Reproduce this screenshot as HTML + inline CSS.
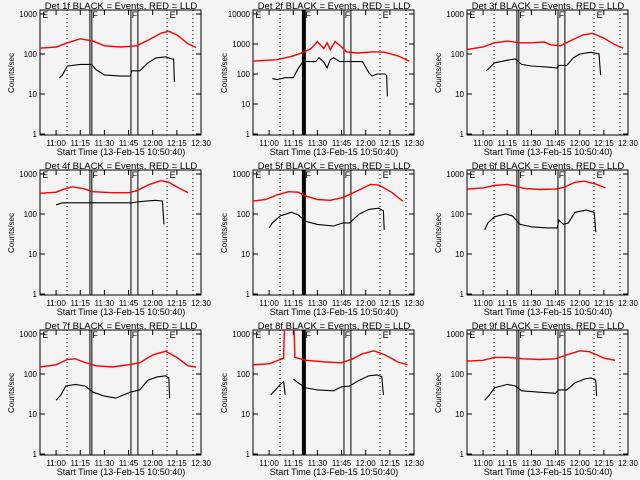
<!DOCTYPE html>
<html><head><meta charset="utf-8">
<style>
html,body{margin:0;padding:0;background:#f4f4f4;}
svg{display:block;}
text{font-family:"Liberation Sans",sans-serif;fill:#000;}
</style></head>
<body>
<svg id="chart" width="640" height="480" viewBox="0 0 640 480"></svg>
<script>
// ---- data (minutes since 10:50, counts/sec) ----
const p1RedT=[0,10,17,25,33,40,50,60,68,75,80,85,92,97];
const p1RedV=[140,150,190,240,210,160,150,160,230,330,370,300,180,145];
const p1BlkT=[12,14,17,25,32,35,40,50,56,57,62,67,72,78,82,83,83.5];
const p1BlkV=[25,30,50,55,55,40,30,28,28,38,38,60,80,85,75,75,20];
const p2RedT=[0,15,25,32,36,40,44,46,48,51,55,58,65,75,82,90,97];
const p2RedV=[270,300,400,550,700,1200,700,1100,650,1200,800,550,500,550,530,400,270];
const p2BlkT=[12,15,20,25,28,31,39,41,44,46,48,50,52,54,68,72,74,77,82,83,83.5];
const p2BlkV=[70,65,75,75,150,260,260,350,250,160,300,350,300,260,260,110,85,100,100,90,18];
const p3RedT=[0,10,17,25,33,40,48,52,58,65,72,78,85,92,97];
const p3RedV=[130,150,190,210,190,190,200,170,160,220,300,330,250,170,140];
const p3BlkT=[12,14,17,25,30,34,40,50,56,57,62,66,70,77,82,83];
const p3BlkV=[38,45,60,70,75,55,50,47,45,52,52,80,100,110,100,30];
const p4RedT=[0,10,15,20,27,33,45,55,60,68,75,80,86,92];
const p4RedV=[330,350,420,480,430,360,340,340,380,550,680,620,450,340];
const p4BlkT=[10,14,57,60,66,72,76,77];
const p4BlkV=[170,190,190,200,210,220,210,55];
const p5RedT=[0,8,15,22,28,33,40,48,56,66,73,78,86,93];
const p5RedV=[210,230,300,360,350,280,230,220,260,400,550,530,350,210];
const p5BlkT=[10,12,17,24,28,33,40,50,56,60,66,72,78,81,81.5];
const p5BlkV=[45,60,90,110,95,65,55,50,60,60,100,130,140,120,40];
const p6RedT=[0,10,17,25,30,35,45,55,60,67,73,80,86];
const p6RedV=[420,450,520,550,500,440,410,420,460,620,660,560,450];
const p6BlkT=[11,13,17,24,28,33,40,50,56,57,60,63,67,74,79,80];
const p6BlkV=[40,60,85,100,90,55,48,45,45,70,55,60,110,125,110,35];
const p7RedT=[0,10,17,22,27,35,45,55,62,70,78,85,92,97];
const p7RedV=[150,170,230,240,200,160,150,170,190,300,370,260,160,150];
const p7BlkT=[10,13,16,22,28,33,40,47,52,56,62,67,73,78,80,80.5];
const p7BlkV=[22,30,50,55,50,35,28,25,30,35,40,70,85,90,80,25];
const p8RedT=[0,10,17,19,19.5,null,25.5,26,33,45,55,62,68,75,82,90,96];
const p8RedV=[170,180,230,250,1300,null,1300,260,220,200,190,240,320,380,300,200,170];
const p8BlkT=[11,14,17,19,20,null,25,28,33,40,50,55,60,66,72,77,80,81];
const p8BlkV=[30,40,55,65,30,null,75,60,45,40,38,48,50,70,90,95,85,30];
const p9RedT=[0,10,17,25,35,45,55,62,70,76,85,92];
const p9RedV=[210,220,260,260,240,230,240,300,380,360,250,220];
const p9BlkT=[11,14,17,25,30,34,45,55,57,62,67,73,77,80,80.5];
const p9BlkV=[22,30,45,55,50,38,35,33,40,40,60,75,80,70,28];
const xTickLabels=["11:00","11:15","11:30","11:45","12:00","12:15","12:30"];
const xTickTimes=[10,25,40,55,70,85,100];

const panels=[
 [p1RedT,p1RedV,p1BlkT,p1BlkV,3],[p2RedT,p2RedV,p2BlkT,p2BlkV,4],[p3RedT,p3RedV,p3BlkT,p3BlkV,3],
 [p4RedT,p4RedV,p4BlkT,p4BlkV,3],[p5RedT,p5RedV,p5BlkT,p5BlkV,3],[p6RedT,p6RedV,p6BlkT,p6BlkV,3],
 [p7RedT,p7RedV,p7BlkT,p7BlkV,3],[p8RedT,p8RedV,p8BlkT,p8BlkV,3],[p9RedT,p9RedV,p9BlkT,p9BlkV,3]];
const svg=document.getElementById('chart');
const NS='http://www.w3.org/2000/svg';
function mk(tag,attrs,parent){const e=document.createElementNS(NS,tag);for(const k in attrs)e.setAttribute(k,attrs[k]);parent.appendChild(e);return e;}
function line(p,x1,y1,x2,y2,extra){const l=mk('line',Object.assign({x1:x1,y1:y1,x2:x2,y2:y2,stroke:'#000','stroke-width':1},extra||{}),p);return l;}

panels.forEach((pd,i)=>{
  const col=i%3,row=Math.floor(i/3);
  const ox=col*213+(col==2?1:0),oy=row*160;
  const bx0=ox+40,bx1=ox+201,by0=oy+10,by1=oy+135;
  const dec=pd[4],pxd=120/dec;
  const xs=t=>bx0+t*1.61;
  const ys=v=>oy+134-Math.log10(v)*pxd;
  const g=mk('g',{},svg);
  
  
  const title=mk('text',{x:ox+121,y:oy+9,'font-size':'9.5','text-anchor':'middle'},g);
  title.textContent='Det '+(i+1)+'f BLACK = Events, RED = LLD';
  
  
  const box=mk('rect',{x:bx0,y:by0,width:bx1-bx0,height:by1-by0,fill:'none',stroke:'#000','stroke-width':1},g);
  
  
  for(let d=0;d<=dec;d++){
    const y=ys(Math.pow(10,d));
    line(g,bx0,y,bx0+5,y);line(g,bx1,y,bx1-5,y);
    const t=mk('text',{x:bx0-3,y:y+3,'font-size':'8','text-anchor':'end'},g);
    t.textContent=String(Math.pow(10,d));
    
    
  }
  xTickTimes.forEach((tt,k)=>{
    const x=xs(tt);
    line(g,x,by1,x,by1-5);line(g,x,by0,x,by0+5);
    const t=mk('text',{x:x,y:by1+11,'font-size':'8','text-anchor':'middle'},g);
    t.textContent=xTickLabels[k];
    
    
  });
  const xt=mk('text',{x:ox+121,y:oy+155,'font-size':'9','text-anchor':'middle'},g);
  xt.textContent='Start Time (13-Feb-15 10:50:40)';
  
  
  const yt=mk('text',{x:0,y:0,'font-size':'8','text-anchor':'middle',transform:'translate('+(ox+14)+','+(oy+73)+') rotate(-90)'},g);
  yt.textContent='Counts/sec';
  
  
  [16.8,78.9,95].forEach(tt=>{line(g,xs(tt),by0,xs(tt),by1,{'stroke-dasharray':'1,3'});});
  const thick=(i%3==1);
  [31,32.2,56.5,60.8].forEach((tt,k)=>{line(g,xs(tt),by0,xs(tt),by1,{'stroke-width':(k<2&&thick)?2:1});});
  [[1.5,'E'],[32.5,'F'],[57,'F'],[80.5,'E']].forEach(m=>{
    const t=mk('text',{x:xs(m[0]),y:by0+8,'font-size':'9'},g);
    t.textContent=m[1];
    
    
  });
  function poly(T,V,color,name){
    let segs=[],cur=[];
    T.forEach((t,k)=>{if(t===null){if(cur.length)segs.push(cur);cur=[];}else cur.push(xs(t).toFixed(1)+','+Math.max(by0,ys(V[k])).toFixed(1));});
    if(cur.length)segs.push(cur);
    segs.forEach(s=>{const p=mk('polyline',{points:s.join(' '),fill:'none',stroke:color,'stroke-width':color=='#f00'?1.4:1.1},g);
      
      });
  }
  poly(pd[0],pd[1],'#f00','lld-series-red');
  poly(pd[2],pd[3],'#000','events-series-black');
});
</script>
</body></html>
